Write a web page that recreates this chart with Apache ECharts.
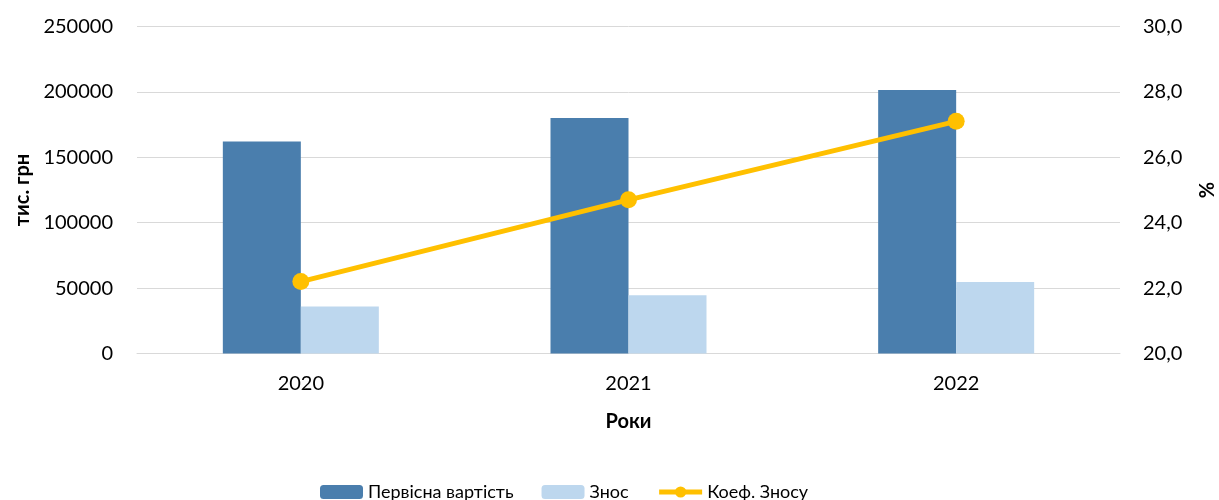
<!DOCTYPE html>
<html>
<head>
<meta charset="utf-8">
<script src="https://cdn.jsdelivr.net/npm/echarts@6/dist/echarts.min.js"></script>
<style>
html,body{margin:0;padding:0;background:#fff;}
#chart{width:1219px;height:500px;}
</style>
</head>
<body>
<div id="chart"></div>
<script>
const categories = ['2020', '2021', '2022'];
const initialCost = [162000, 180000, 201500];
const depreciation = [36000, 44500, 54700];
const depreciationRate = [22.2, 24.7, 27.1];
const seriesNames = ['Первісна вартість', 'Знос', 'Коеф. Зносу'];

const FONT = 'Lato';
const chart = echarts.init(document.getElementById('chart'), null, {renderer: 'canvas'});
chart.setOption({
  animation: false,
  textStyle: {fontFamily: FONT},
  grid: {left: 137, right: 99, top: 26.5, bottom: 146.5, containLabel: false, outerBoundsMode: 'none'},
  legend: {
    data: seriesNames,
    left: 320,
    top: 483,
    padding: 0,
    itemWidth: 43,
    itemHeight: 14,
    itemGap: 28,
    lineStyle: {width: 5},
    textStyle: {fontFamily: FONT, fontSize: 18, color: '#000'}
  },
  xAxis: {
    type: 'category',
    data: categories,
    name: 'Роки',
    nameLocation: 'middle',
    nameGap: 58,
    nameTextStyle: {fontFamily: FONT, fontSize: 20, fontWeight: 'bold', color: '#000'},
    axisLine: {lineStyle: {color: '#d9d9d9', width: 1}},
    axisTick: {show: false},
    axisLabel: {fontFamily: FONT, fontSize: 20, color: '#000', margin: 20}
  },
  yAxis: [{
    type: 'value',
    min: 0, max: 250000, interval: 50000,
    name: 'тис. грн',
    nameLocation: 'middle',
    nameRotate: 90,
    nameGap: 100,
    nameTextStyle: {fontFamily: FONT, fontSize: 20, fontWeight: 'bold', color: '#000'},
    axisLine: {show: false},
    axisTick: {show: false},
    axisLabel: {fontFamily: FONT, fontSize: 20, color: '#000', margin: 24,
      formatter: v => String(v)},
    splitLine: {lineStyle: {color: '#d9d9d9', width: 1}}
  }, {
    type: 'value',
    min: 20, max: 30, interval: 2,
    name: '%',
    nameLocation: 'middle',
    nameRotate: 90,
    nameGap: 78,
    nameTextStyle: {fontFamily: FONT, fontSize: 20, fontWeight: 'bold', color: '#000'},
    axisLine: {show: false},
    axisTick: {show: false},
    axisLabel: {fontFamily: FONT, fontSize: 20, color: '#000', margin: 23,
      formatter: v => v.toFixed(1).replace('.', ',')},
    splitLine: {show: false}
  }],
  series: [{
    name: seriesNames[0],
    type: 'bar',
    data: initialCost,
    barWidth: 78,
    barGap: '0%',
    itemStyle: {color: '#4A7EAD'}
  }, {
    name: seriesNames[1],
    type: 'bar',
    data: depreciation,
    barWidth: 78,
    barGap: '0%',
    itemStyle: {color: '#BDD7EE'}
  }, {
    name: seriesNames[2],
    type: 'line',
    yAxisIndex: 1,
    data: depreciationRate,
    symbol: 'circle',
    symbolSize: 17,
    lineStyle: {color: '#FFC000', width: 5},
    itemStyle: {color: '#FFC000'}
  }]
});
</script>
</body>
</html>
